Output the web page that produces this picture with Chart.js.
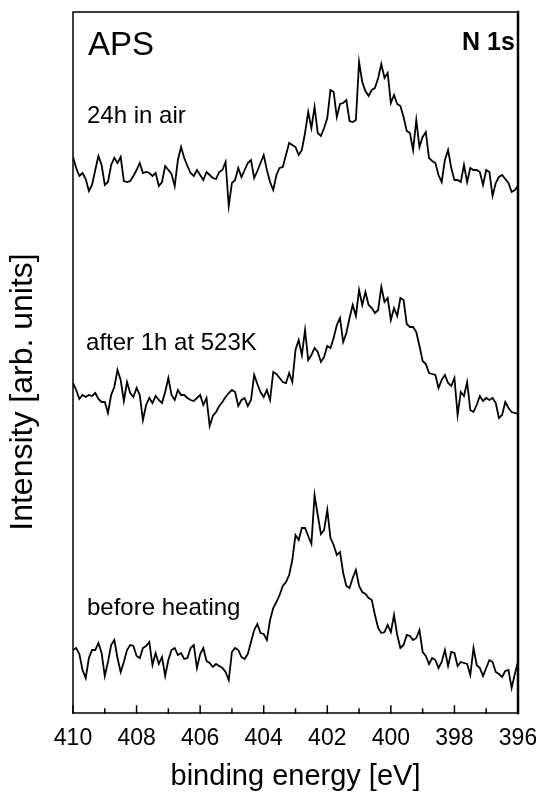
<!DOCTYPE html>
<html>
<head>
<meta charset="utf-8">
<script src="https://cdn.jsdelivr.net/npm/chart.js@4.4.0/dist/chart.umd.min.js"></script>
<style>
  html, body { margin: 0; padding: 0; background: #fff; }
</style>
</head>
<body>
<canvas id="xpsChart" width="536" height="794"></canvas>
<script>
// N 1s spectra, binding energy 410 -> 396 eV in 0.1 eV steps
var energies = [];
for (var i = 0; i <= 140; i++) {
    energies.push(+(410 - i * 0.1).toFixed(1));
}

// tick positions on the energy axis
var majorTicks = [410, 408, 406, 404, 402, 400, 398, 396];
var minorTicks = [409, 407, 405, 403, 401, 399, 397];

// spectra as plotted (stacked, arb. units)
var airSpectrum = [
    556, 545, 537, 540, 534, 522, 528, 543, 557, 548,
    528, 531, 548, 555, 550, 556, 532, 531, 532, 537,
    543, 550, 540, 541, 540, 537, 540, 527, 531, 547,
    543, 539, 527, 553, 566, 555, 547, 540, 537, 543,
    538, 533, 541, 538, 535, 534, 541, 543, 551, 507,
    530, 533, 545, 536, 543, 550, 553, 535, 542, 550,
    558, 543, 531, 523, 538, 545, 546, 558, 570, 568,
    566, 558, 563, 580, 601, 585, 606, 580, 577, 585,
    595, 623, 621, 596, 609, 610, 613, 592, 591, 593,
    651, 631, 622, 617, 623, 625, 635, 649, 635, 640,
    610, 618, 609, 607, 596, 582, 580, 563, 593, 566,
    576, 581, 555, 552, 550, 538, 531, 553, 563, 545,
    533, 533, 531, 548, 531, 545, 543, 543, 541, 528,
    543, 541, 517, 530, 536, 538, 534, 530, 521, 523,
    527
];
var heatedSpectrum = [
    330, 323, 314, 318, 316, 318, 317, 320, 314, 311,
    311, 300, 318, 326, 343, 333, 312, 331, 320, 316,
    325, 318, 293, 308, 315, 310, 317, 313, 310, 321,
    335, 318, 313, 323, 318, 318, 315, 313, 312, 315,
    318, 308, 315, 287, 297, 301, 307, 311, 316, 320,
    323, 321, 307, 313, 315, 307, 313, 338, 329, 321,
    316, 323, 313, 341, 339, 335, 331, 330, 340, 331,
    363, 373, 358, 383, 353, 358, 365, 361, 351, 356,
    367, 365, 375, 388, 395, 371, 380, 395, 408, 397,
    423, 408, 421, 408, 405, 400, 403, 426, 411, 415,
    393, 405, 397, 415, 413, 389, 386, 386, 381, 367,
    352, 349, 340, 339, 338, 325, 333, 338, 330, 327,
    335, 298, 321, 317, 331, 303, 301, 308, 317, 312,
    315, 313, 315, 310, 295, 298, 311, 305, 301, 300,
    299
];
var freshSpectrum = [
    63, 65, 59, 43, 35, 55, 63, 63, 70, 60,
    37, 51, 68, 73, 55, 41, 51, 63, 68, 67,
    57, 55, 65, 67, 71, 48, 60, 49, 56, 37,
    53, 63, 65, 58, 60, 54, 55, 65, 68, 45,
    59, 65, 52, 50, 46, 49, 47, 45, 41, 33,
    61, 65, 63, 56, 54, 59, 71, 83, 89, 80,
    79, 73, 93, 105, 111, 118, 127, 131, 138, 153,
    178, 173, 185, 185, 177, 169, 218, 198, 179, 183,
    203, 175, 168, 158, 161, 140, 127, 125, 135, 143,
    127, 121, 119, 115, 113, 98, 85, 80, 81, 88,
    81, 98, 78, 65, 68, 78, 77, 73, 75, 83,
    61, 57, 49, 55, 53, 45, 51, 63, 47, 61,
    60, 47, 51, 50, 49, 38, 65, 48, 45, 37,
    45, 53, 51, 41, 39, 36, 42, 43, 25, 39,
    51
];

var seriesNames = ['24h in air', 'after 1h at 523K', 'before heating'];

function toPoints(values) {
    return values.map(function(v, i) { return { x: energies[i], y: v }; });
}

var FONT = '"Liberation Sans", Arial, Helvetica, sans-serif';
Chart.defaults.font.family = FONT;
Chart.defaults.color = '#000';

// frame, inward ticks and in-plot captions
var framePlugin = {
    id: 'framePlugin',
    afterDatasetsDraw: function(chart) {
        var ctx = chart.ctx;
        var a = chart.chartArea;
        var xs = chart.scales.x;
        var ys = chart.scales.y;
        ctx.save();
        ctx.strokeStyle = '#000';
        ctx.lineCap = 'square';

        ctx.lineWidth = 1.5;
        ctx.beginPath();
        ctx.moveTo(a.left, a.bottom);
        ctx.lineTo(a.left, a.top);
        ctx.lineTo(a.right, a.top);
        ctx.moveTo(a.left, a.bottom);
        ctx.lineTo(a.right, a.bottom);
        ctx.stroke();
        ctx.lineWidth = 2.5;
        ctx.beginPath();
        ctx.moveTo(a.right, a.top);
        ctx.lineTo(a.right, a.bottom);
        ctx.stroke();

        ctx.lineWidth = 1.5;
        ctx.beginPath();
        majorTicks.forEach(function(v) {
            var px = xs.getPixelForValue(v);
            ctx.moveTo(px, a.bottom);
            ctx.lineTo(px, a.bottom - 7);
        });
        minorTicks.forEach(function(v) {
            var px = xs.getPixelForValue(v);
            ctx.moveTo(px, a.bottom);
            ctx.lineTo(px, a.bottom - 4);
        });
        ctx.stroke();

        ctx.fillStyle = '#000';
        ctx.textBaseline = 'alphabetic';
        ctx.textAlign = 'left';
        ctx.font = '33px ' + FONT;
        ctx.fillText('APS', xs.getPixelForValue(409.53), ys.getPixelForValue(658));
        ctx.font = 'bold 25px ' + FONT;
        ctx.textAlign = 'right';
        ctx.fillText('N 1s', xs.getPixelForValue(396.1), ys.getPixelForValue(663));

        ctx.font = '24px ' + FONT;
        ctx.textAlign = 'left';
        ctx.fillText(seriesNames[0], xs.getPixelForValue(409.56), ys.getPixelForValue(590));
        ctx.fillText(seriesNames[1], xs.getPixelForValue(409.59), ys.getPixelForValue(363));
        ctx.fillText(seriesNames[2], xs.getPixelForValue(409.56), ys.getPixelForValue(98));

        // y axis title
        ctx.translate(23, 392);
        ctx.rotate(-Math.PI / 2);
        ctx.textAlign = 'center';
        ctx.textBaseline = 'middle';
        ctx.font = '32px ' + FONT;
        ctx.fillText('Intensity [arb. units]', 0, 0);
        ctx.restore();
    }
};

function lineSet(label, values) {
    return {
        label: label,
        data: toPoints(values),
        borderColor: '#000',
        borderWidth: 1.8,
        pointRadius: 0,
        tension: 0,
        fill: false
    };
}

new Chart(document.getElementById('xpsChart').getContext('2d'), {
    type: 'line',
    data: {
        datasets: [
            lineSet(seriesNames[0], airSpectrum),
            lineSet(seriesNames[1], heatedSpectrum),
            lineSet(seriesNames[2], freshSpectrum)
        ]
    },
    options: {
        responsive: false,
        animation: false,
        layout: { padding: { top: 12, right: 18, left: 0, bottom: 0 } },
        plugins: {
            legend: { display: false },
            tooltip: { enabled: false }
        },
        scales: {
            x: {
                type: 'linear',
                min: 396,
                max: 410,
                reverse: true,
                grid: { display: false },
                border: { display: false },
                afterBuildTicks: function(axis) {
                    axis.ticks = majorTicks.map(function(v) { return { value: v }; });
                },
                afterFit: function(axis) {
                    axis.height = 81;
                    axis.paddingLeft = 0;
                    axis.paddingRight = 0;
                },
                ticks: {
                    font: { size: 23 },
                    color: '#000',
                    padding: 4,
                    maxRotation: 0
                },
                title: {
                    display: true,
                    text: 'binding energy [eV]',
                    font: { size: 29 },
                    color: '#000',
                    padding: { top: 0, bottom: 0 }
                }
            },
            y: {
                min: 0,
                max: 701,
                grid: { display: false },
                border: { display: false },
                ticks: { display: false },
                afterFit: function(axis) {
                    axis.width = 73;
                }
            }
        }
    },
    plugins: [framePlugin]
});
</script>
</body>
</html>
